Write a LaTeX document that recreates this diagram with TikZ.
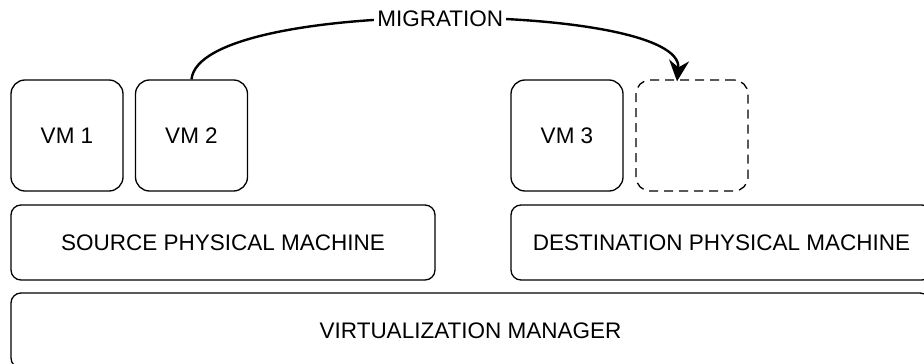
\documentclass[tikz,border=0pt]{standalone}
\usepackage{fontspec}
\setmainfont{Liberation Sans}
\usetikzlibrary{arrows.meta}

\begin{document}
\begin{tikzpicture}[
  x=1pt, y=-1pt,
  every node/.style={font=\fontsize{22.5}{26}\selectfont},
  vmbox/.style={draw=black, fill=white, line width=1.3pt, rounded corners=14pt, minimum width=112pt, minimum height=111pt, inner sep=0pt},
  slotbox/.style={vmbox, dash pattern=on 9pt off 6pt},
  hostbox/.style={draw=black, fill=white, line width=1.3pt, rounded corners=10pt, minimum height=75pt, inner sep=0pt},
  migline/.style={-{Stealth[length=21pt,width=20pt,inset=7pt]}, line width=2.4pt, draw=black},
]
\useasboundingbox (0,0) rectangle (924,364);
% ---------- virtual machines (pixel coordinates, y grows downwards) ----------
\node[vmbox] (vm1) at (67,135.5) {VM 1};
\node[vmbox] (vm2) at (191.5,135.5) {VM 2};
\node[vmbox] (vm3) at (567,135.5) {VM 3};
\node[slotbox] (slot) at (692,135.5) {};
% ---------- physical machines and manager ----------
\node[hostbox, minimum width=424pt] (src) at (223,242.5) {SOURCE PHYSICAL MACHINE};
\node[hostbox, minimum width=421pt] (dst) at (721.5,242.5) {DESTINATION PHYSICAL MACHINE};
\node[hostbox, minimum width=919pt] (mgr) at (470.5,330.5) {VIRTUALIZATION MANAGER};
% ---------- migration arrow ----------
\draw[migline] (vm2.north) .. controls +(8,-83) and +(8,-80) .. ([xshift=-15pt,yshift=-2pt]slot.north)
  node[midway, fill=white, inner sep=3pt] (mig) {MIGRATION};
\end{tikzpicture}
\end{document}
